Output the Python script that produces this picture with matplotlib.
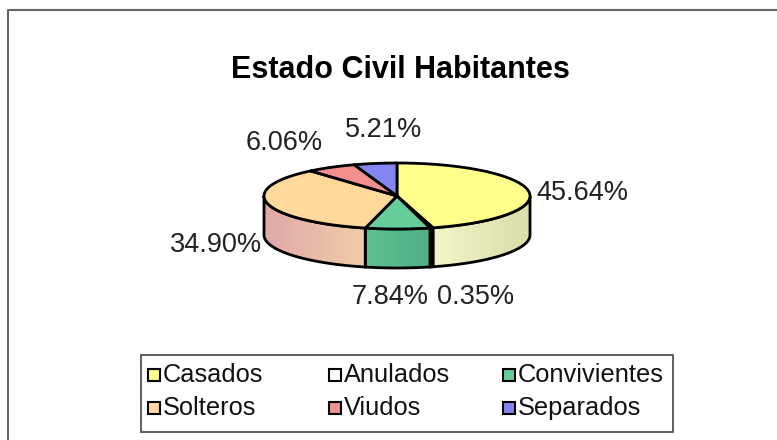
import numpy as np
import matplotlib
matplotlib.use("Agg")
import matplotlib.pyplot as plt
from matplotlib.patches import Polygon, Rectangle
from matplotlib.colors import to_rgb

plt.rcParams['font.family'] = ['Liberation Sans', 'DejaVu Sans']

# datos
categorias = ["Casados", "Anulados", "Convivientes", "Solteros", "Viudos", "Separados"]
porcentajes = [45.64, 0.35, 7.84, 34.90, 6.06, 5.21]
titulo = "Estado Civil Habitantes"

# estilo
colores = ["#FFFF8C", "#FFFFFF", "#66CC99", "#FFD99A", "#F29090", "#8585F2"]
lados = [("#D9DDA8", "#F4F4C8"), ("#5A2A6A", "#5A2A6A"), ("#4FAE84", "#5FBF92"),
         ("#E0A8A8", "#F0CCA8"), ("#E09090", "#E89898"), ("#7070D8", "#7878E0")]

fig = plt.figure(figsize=(7.77, 4.4), dpi=100)
ax = fig.add_axes([0, 0, 1, 1])
ax.set_xlim(0, 777)
ax.set_ylim(440, 0)
ax.axis("off")

# marco exterior
ax.plot([8, 8, 777], [440, 10, 10], color="#666666", lw=1.5)

ax.text(400, 70, titulo, ha="center", va="center", fontsize=22, fontweight="bold")

# pastel 3D
cx, cy, rx, ry, prof = 397, 196, 133, 33, 39

def punto(t, dy=0):
    r = np.radians(t)
    return cx + rx * np.sin(r), cy - ry * np.cos(r) + dy

fr = np.array(porcentajes) / sum(porcentajes) * 360
ini = np.concatenate([[0], np.cumsum(fr)[:-1]])
fin = np.cumsum(fr)

# caras laterales
for i in range(len(categorias)):
    a, b = max(ini[i], 90), min(fin[i], 270)
    if b <= a:
        continue
    t = np.linspace(a, b, 60)
    arriba = [punto(v) for v in t]
    abajo = [punto(v, prof) for v in t[::-1]]
    poly = Polygon(arriba + abajo, closed=True, facecolor="none", edgecolor="black", lw=2, zorder=3)
    ax.add_patch(poly)
    xs = [p[0] for p in arriba]
    x0, x1 = min(xs), max(xs)
    c0, c1 = np.array(to_rgb(lados[i][0])), np.array(to_rgb(lados[i][1]))
    if (fin[i] + ini[i]) / 2 > 180:
        c0, c1 = c1, c0
    g = np.linspace(0, 1, 50)[None, :, None]
    img = c1 * (1 - g) + c0 * g
    im = ax.imshow(img, extent=[x0, x1, cy + ry + prof + 2, cy - ry], aspect="auto", zorder=2,
                   interpolation="bilinear")
    clip = Polygon(arriba + abajo, closed=True, transform=ax.transData)
    im.set_clip_path(clip)

# caras superiores
for i in range(len(categorias)):
    t = np.linspace(ini[i], fin[i], max(3, int(fr[i] * 2)))
    pts = [(cx, cy)] + [punto(v) for v in t]
    ax.add_patch(Polygon(pts, closed=True, facecolor=colores[i], edgecolor="black", lw=2,
                         joinstyle="round", zorder=4))

# etiquetas
ajustes = [(8, 2, "left"), (44, 30, "center"), (-8, 29, "center"),
           (-6, 2, "right"), (-8, -24, "right"), (8, -33, "center")]
for i in range(len(categorias)):
    m = (ini[i] + fin[i]) / 2
    x, y = punto(m, prof if np.cos(np.radians(m)) < 0 else 0)
    dx, dy, ha = ajustes[i]
    ax.text(x + dx, y + dy, "%.2f%%" % porcentajes[i], ha=ha, va="center", fontsize=19.5,
            color="#222222", zorder=5)

# leyenda
ax.add_patch(Rectangle((141, 355), 532, 77, facecolor="white", edgecolor="#444444", lw=1.2))
col_x = [148, 329, 503]
fila_y = [375, 408]
for k in range(len(categorias)):
    x = col_x[k % 3]
    y = fila_y[k // 3]
    ax.add_patch(Rectangle((x, y - 6), 12, 12, facecolor=colores[k], edgecolor="black", lw=1.5))
    ax.text(x + 15, y, categorias[k], ha="left", va="center", fontsize=18.3, color="#111111")

fig.savefig("out.png", dpi=100)
